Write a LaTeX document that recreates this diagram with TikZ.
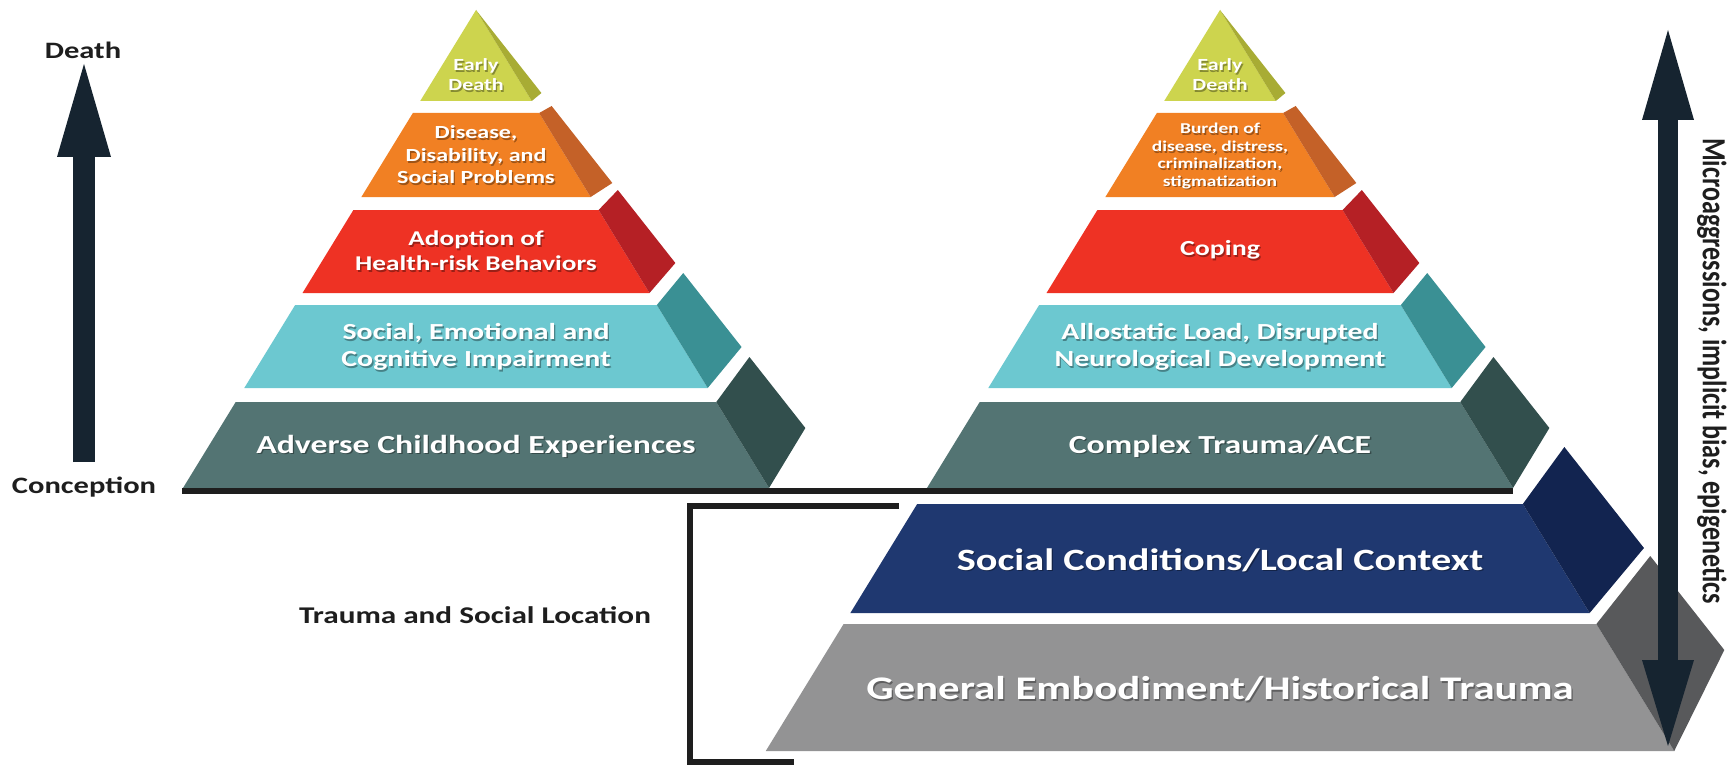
\documentclass[tikz,border=0pt]{standalone}
\usepackage{fontspec}
\setmainfont{Carlito}[FakeStretch=1.3]
\newfontfamily\sidewaysfont{Carlito}[FakeStretch=0.77]
\usetikzlibrary{arrows.meta,calc}

\definecolor{edF}{HTML}{CDD44E}
\definecolor{edS}{HTML}{A8AC34}
\definecolor{dsF}{HTML}{F18023}
\definecolor{dsS}{HTML}{C46128}
\definecolor{adF}{HTML}{EE3224}
\definecolor{adS}{HTML}{B52025}
\definecolor{scF}{HTML}{6CC8D0}
\definecolor{scS}{HTML}{3A9094}
\definecolor{acF}{HTML}{537473}
\definecolor{acS}{HTML}{324F4D}
\definecolor{blF}{HTML}{1F3870}
\definecolor{blS}{HTML}{122450}
\definecolor{grF}{HTML}{939394}
\definecolor{grS}{HTML}{58595B}
\definecolor{navy}{HTML}{162430}
\definecolor{ink}{HTML}{1E1E1E}

% One slab of a pyramid:
% centre x, front top y, front bottom y, back top y, back bottom y, front colour, side colour
\newcommand\pyrslab[7]{%
  \fill[#6] ({#1-0.613*(#2-10)},#2) -- ({#1+0.613*(#2-10)},#2)
     -- ({#1+0.613*(#3-10)},#3) -- ({#1-0.613*(#3-10)},#3) -- cycle;
  \fill[#7] ({#1+0.613*(#2-10)},#2) -- ({#1+0.788*(#4-10)},#4)
     -- ({#1+0.788*(#5-10)},#5) -- ({#1+0.613*(#3-10)},#3) -- cycle;}

% White slab label with a soft drop shadow: name, position, options, text
\newcommand\slablabel[4]{%
  \node[slabshadow,#3] at ($(#2)+(1.3,1.8)$) {#4};
  \node[slabtext,#3] (#1) at (#2) {#4};}

\begin{document}
\begin{tikzpicture}[x=1pt,y=-1pt,
  sz/.style 2 args={font=\bfseries\fontsize{#1}{#2}\selectfont},
  slabtext/.style={text=white, inner sep=0pt, align=center},
  slabshadow/.style={text=black, opacity=0.35, inner sep=0pt, align=center},
  sidelabel/.style={text=ink, inner sep=0pt, sz={23.5}{28}},
  blockarrow/.style={draw=navy, line width=#1},
  rule/.style={draw=ink, line width=6pt, line join=miter}]

\fill[white] (0,0) rectangle (1730,765);
\useasboundingbox (0,0) rectangle (1730,765);

% the two stacked pyramids
\foreach \cx in {476,1220} {
  \pyrslab{\cx}{10}{101}{10}{93}{edF}{edS}
  \pyrslab{\cx}{113}{197}{106}{183}{dsF}{dsS}
  \pyrslab{\cx}{210}{293}{190}{263}{adF}{adS}
  \pyrslab{\cx}{305}{388}{273}{347}{scF}{scS}
  \pyrslab{\cx}{402}{488}{357}{428}{acF}{acS}
}
% the two foundation slabs under the right pyramid
\pyrslab{1220}{504}{613}{447}{548}{blF}{blS}
\pyrslab{1220}{624}{751}{556}{650}{grF}{grS}

% ground line under both pyramids
\coordinate (groundL) at (182,491);
\coordinate (groundR) at (1513,491);
\draw[rule] (groundL) -- (groundR);

% bracket round the foundation slabs
\coordinate (brA) at (899,506);
\coordinate (brB) at (690,506);
\coordinate (brC) at (690,762);
\coordinate (brD) at (794,762);
\draw[rule] (brA) -- (brB) -- (brC) -- (brD);

% left pyramid labels
\slablabel{ed1}{476,75}{sz={17}{20}}{Early\\Death}
\slablabel{dis1}{476,155}{sz={18.5}{22.5}}{Disease,\\Disability, and\\Social Problems}
\slablabel{ado1}{476,251}{sz={21}{25}}{Adoption of\\Health-risk Behaviors}
\slablabel{soc1}{476,347}{sz={23}{27}}{Social, Emotional and\\Cognitive Impairment}
\slablabel{adv1}{476,446}{sz={26}{30}}{Adverse Childhood Experiences}

% right pyramid labels
\slablabel{ed2}{1220,75}{sz={17}{20}}{Early\\Death}
\slablabel{bur2}{1220,156}{sz={15}{17.4}}{Burden of\\disease, distress,\\criminalization,\\stigmatization}
\slablabel{cop2}{1220,250}{sz={21.5}{25}}{Coping}
\slablabel{all2}{1220,347}{sz={23}{27}}{Allostatic Load, Disrupted\\Neurological Development}
\slablabel{cpx2}{1220,446}{sz={26}{30}}{Complex Trauma/ACE}
\slablabel{soccon}{1220,560}{sz={31}{36}}{Social Conditions/Local Context}
\slablabel{genemb}{1220,689}{sz={33}{39}}{General Embodiment/Historical Trauma}

% side labels
\node[sidelabel] (death) at (83,50) {Death};
\node[sidelabel] (conception) at (84,487) {Conception};
\node[sidelabel, sz={24}{29}] (tsl) at (475,615) {Trauma and Social Location};
\node[rotate=-90, text=ink, inner sep=0pt,
      font=\sidewaysfont\bfseries\fontsize{33.8}{40}\selectfont]
      (micro) at (1712,371) {Microaggressions, implicit bias, epigenetics};

% life-course arrow
\coordinate (lifeBot) at (84,462);
\coordinate (lifeTop) at (84,64);
\draw[blockarrow=22pt, -{Triangle[length=93pt,width=54pt,line width=0pt]}]
  (lifeBot) -- (lifeTop);

% two-way arrow on the right
\coordinate (biBot) at (1668,746);
\coordinate (biTop) at (1668,30);
\draw[blockarrow=20pt,
  {Triangle[length=86pt,width=52pt,line width=0pt]}-{Triangle[length=90pt,width=52pt,line width=0pt]}]
  (biBot) -- (biTop);
\end{tikzpicture}
\end{document}
